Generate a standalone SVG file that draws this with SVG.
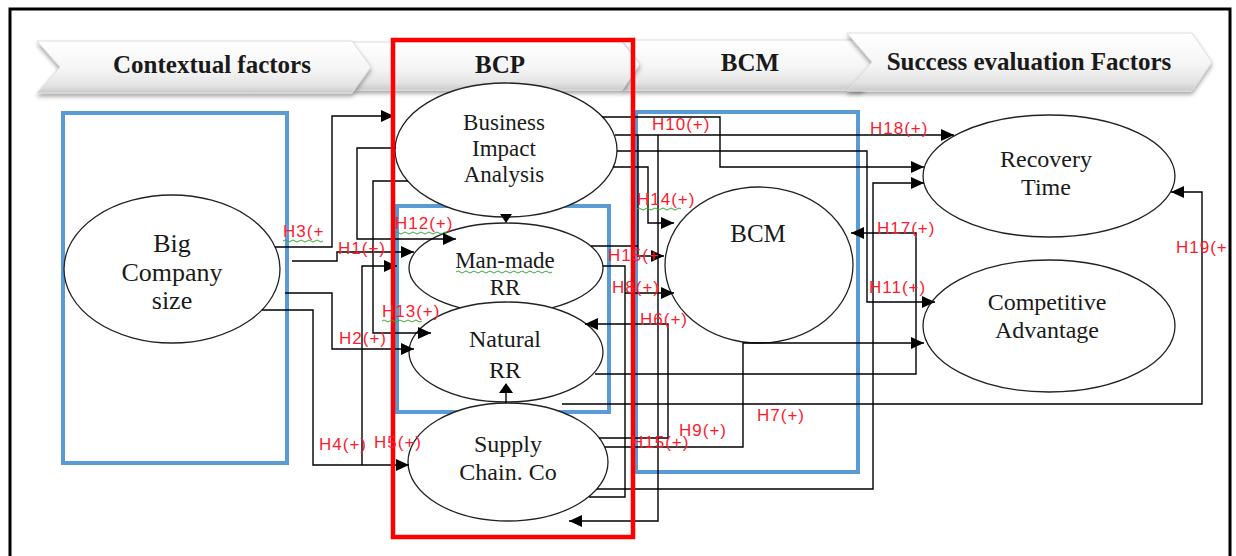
<svg xmlns="http://www.w3.org/2000/svg" width="1236" height="556" viewBox="0 0 1236 556">
<defs>
<linearGradient id="bg" x1="0" y1="0" x2="0" y2="1">
<stop offset="0" stop-color="#ffffff"/><stop offset="0.55" stop-color="#f5f5f5"/><stop offset="0.85" stop-color="#e4e4e4"/><stop offset="1" stop-color="#c9c9c9"/>
</linearGradient>
<filter id="sh" x="-5%" y="-20%" width="110%" height="160%"><feDropShadow dx="0" dy="3" stdDeviation="2" flood-color="#000" flood-opacity="0.35"/></filter>
<marker id="ah" markerUnits="userSpaceOnUse" markerWidth="14" markerHeight="12" refX="13" refY="6" orient="auto"><path d="M0,0 L13,6 L0,12 z" fill="#000"/></marker>
</defs>
<style>
.ban{fill:url(#bg);stroke:#dddddd;stroke-width:1;filter:url(#sh)}
.bt{font-family:"Liberation Serif",serif;font-weight:bold;font-size:25px;fill:#1a1a1a;text-anchor:middle}
.nd{fill:#fff;stroke:#222;stroke-width:1.3}
.nt{font-family:"Liberation Serif",serif;font-size:24px;fill:#1a1a1a;text-anchor:middle}
.c{fill:none;stroke:#000;stroke-width:1.4}
.a{marker-end:url(#ah)}
.lb{font-family:"Liberation Sans",sans-serif;font-size:17px;letter-spacing:1px;fill:#ff1a2e}
.blue{fill:none;stroke:#5b9bd5;stroke-width:4}
.red{fill:none;stroke:#ff0000;stroke-width:4.5}
.wv{fill:none;stroke:#3aa63a;stroke-width:1}
</style>
<rect width="1236" height="556" fill="#fff"/>
<path d="M10,560 V9 H1230 V560" fill="none" stroke="#000" stroke-width="3"/>

<g id="banners">
<polygon class="ban" points="622,40 862,40 880,64 862,90 622,90 640,64"/>
<polygon class="ban" points="847,33 1192,33 1212,62 1192,91 847,91 872,62"/>
<polygon class="ban" points="352,42 622,42 640,64 622,90 352,90 371,67"/>
<polygon class="ban" points="37,41 352,41 371,67 352,93 37,93 60,67"/>
<text class="bt" x="212" y="73">Contextual factors</text>
<text class="bt" x="500" y="73">BCP</text>
<text class="bt" x="750" y="71">BCM</text>
<text class="bt" x="1029" y="70">Success evaluation Factors</text>
</g>

<g id="groups">
<rect class="blue" x="63" y="113" width="224" height="350"/>
<rect class="blue" x="397" y="206" width="212" height="206"/>
<rect class="blue" x="636" y="112" width="222" height="360"/>
</g>

<g id="node-big"><ellipse class="nd" cx="172" cy="269" rx="108" ry="74"/>
<text class="nt" style="font-size:26px" x="172" y="252">Big</text><text class="nt" style="font-size:26px" x="172" y="281">Company</text><text class="nt" style="font-size:26px" x="172" y="309">size</text></g>
<g id="node-bia"><ellipse class="nd" cx="506" cy="150" rx="111" ry="67"/>
<text class="nt" style="font-size:23px" x="504" y="130">Business</text><text class="nt" style="font-size:23px" x="504" y="156">Impact</text><text class="nt" style="font-size:23px" x="504" y="182">Analysis</text></g>
<g id="node-manmade"><ellipse class="nd" cx="506" cy="268" rx="97" ry="45"/>
<text class="nt" style="font-size:23px" x="505" y="268">Man-made</text><text class="nt" style="font-size:23px" x="505" y="295">RR</text></g>
<g id="node-natural"><ellipse class="nd" cx="506" cy="352" rx="97" ry="50"/>
<text class="nt" x="505" y="347">Natural</text><text class="nt" x="505" y="378">RR</text></g>
<g id="node-supply"><ellipse class="nd" cx="508" cy="462" rx="100" ry="59"/>
<text class="nt" x="508" y="452">Supply</text><text class="nt" x="508" y="480">Chain. Co</text></g>
<g id="node-bcm"><ellipse class="nd" cx="759" cy="265" rx="94" ry="78"/>
<text class="nt" style="font-size:25px" x="758" y="242">BCM</text></g>
<g id="node-recovery"><ellipse class="nd" cx="1049" cy="176" rx="126" ry="61"/>
<text class="nt" x="1046" y="167">Recovery</text><text class="nt" x="1046" y="195">Time</text></g>
<g id="node-competitive"><ellipse class="nd" cx="1049" cy="326" rx="126" ry="66"/>
<text class="nt" x="1047" y="310">Competitive</text><text class="nt" x="1047" y="338">Advantage</text></g>

<g id="connectors">
<path class="c a" d="M275,247 H332 V116 H394"/>
<path class="c a" d="M292,261 H337 V252 H414"/>
<path class="c a" d="M285,293 H332 V349 H414"/>
<path class="c a" d="M262,310 H313 V465 H409"/>
<path class="c a" d="M362,465 V266 H397"/>
<path class="c a" d="M396,148 H357 V239 H456"/>
<path class="c a" d="M408,181 H373 V333 H431"/>
<path class="c" d="M506,217 V220"/>
<polygon points="500,214 512,214 506,223" fill="#000"/>
<path class="c" d="M506,403 V392"/>
<polygon points="499,393 513,393 506,383" fill="#000"/>
<path class="c a" d="M602,117 H720 V167 H924"/>
<path class="c a" d="M615,135 H954"/>
<path class="c a" d="M617,151 H867 V302 H935"/>
<path class="c a" d="M613,167 H648 V223 H674"/>
<path class="c a" d="M658,135 V521 H569"/>
<path class="c a" d="M638,135 V256 H664"/>
<path class="c" d="M591,246 H638"/>
<path class="c" d="M603,266 H625 V497 H589"/>
<path class="c a" d="M625,293 H674"/>
<path class="c a" d="M599,438 H668 V324 H585"/>
<path class="c a" d="M605,447 H743 V343 H924"/>
<path class="c a" d="M595,374 H916 V233 H851"/>
<path class="c a" d="M562,404 H1202 V192 H1171"/>
<path class="c a" d="M597,489 H873 V183 H924"/>
</g>

<rect class="red" x="393" y="40" width="240" height="497"/>

<g id="labels">
<text class="lb" x="283" y="237">H3(+</text>
<text class="lb" x="338" y="254">H1(+)</text>
<text class="lb" x="339" y="344">H2(+)</text>
<text class="lb" x="319" y="450">H4(+)</text>
<text class="lb" x="374" y="448">H5(+)</text>
<text class="lb" x="395" y="229">H12(+)</text>
<text class="lb" x="382" y="317">H13(+)</text>
<text class="lb" x="637" y="205">H14(+)</text>
<text class="lb" x="608" y="261">H15(+</text>
<text class="lb" x="612" y="293">H8(+)</text>
<text class="lb" x="640" y="325">H6(+)</text>
<text class="lb" x="652" y="130">H10(+)</text>
<text class="lb" x="870" y="134">H18(+)</text>
<text class="lb" x="877" y="234">H17(+)</text>
<text class="lb" x="869" y="293">H11(+)</text>
<text class="lb" x="1176" y="253">H19(+</text>
<text class="lb" x="757" y="421">H7(+)</text>
<text class="lb" x="679" y="436">H9(+)</text>
<text class="lb" x="631" y="448">H15(+)</text>
</g>

<g id="spellcheck">
<path class="wv" d="M283,241 q2,-2 4,0 t4,0 t4,0 t4,0 t4,0 t4,0 t4,0 t4,0 t4,0 t4,0"/>
<path class="wv" d="M395,233 q2,-2 4,0 t4,0 t4,0 t4,0 t4,0 t4,0 t4,0 t4,0 t4,0 t4,0 t4,0 t4,0 t4,0"/>
<path class="wv" d="M382,321 q2,-2 4,0 t4,0 t4,0 t4,0 t4,0 t4,0 t4,0 t4,0 t4,0 t4,0"/>
<path class="wv" d="M637,209 q2,-2 4,0 t4,0 t4,0 t4,0 t4,0 t4,0 t4,0 t4,0 t4,0 t4,0 t4,0"/>
<path class="wv" d="M456,272 q2,-2 4,0 t4,0 t4,0 t4,0 t4,0 t4,0 t4,0 t4,0 t4,0 t4,0 t4,0 t4,0 t4,0 t4,0 t4,0 t4,0 t4,0 t4,0 t4,0 t4,0 t4,0 t4,0 t4,0 t4,0"/>
</g>
</svg>
